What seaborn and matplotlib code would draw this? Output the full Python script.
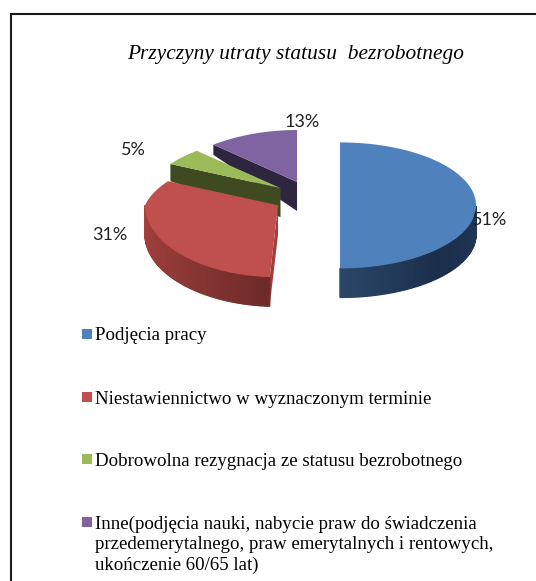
import numpy as np
import matplotlib
matplotlib.use('Agg')
import matplotlib.pyplot as plt
import seaborn as sns

# Dane
kategorie = ['Podjęcia pracy',
             'Niestawiennictwo w wyznaczonym terminie',
             'Dobrowolna rezygnacja ze statusu bezrobotnego',
             'Inne(podjęcia nauki, nabycie praw do świadczenia\nprzedemerytalnego, praw emerytalnych i rentowych,\nukończenie 60/65 lat)']
wartosci = [51, 31, 5, 13]
etykiety = ['51%', '31%', '5%', '13%']
tytul = 'Przyczyny utraty statusu  bezrobotnego'

# Kolory
kolory = ['#4F81BD', '#C0504D', '#9BBB59', '#8064A2']
boki = [['#2A4668', '#1B2F4C', '#1F3655'], ['#A8423F', '#8E3835', '#6E2B29'], ['#3F4A20', '#3F4A20'], ['#2E2540', '#2E2540']]
sciany = ['#1F3655', '#A03F3C', '#3F4A20', '#2E2540']

# Uklad (piksele)
W, H = 536, 581
CX, CY, RX, RY = 312, 198, 136, 63
GLEB = 29
wysuniecie = [0.206, 0.29, 0.28, 0.277]
przesun_y = [7, -2, 0, 0]
# perspektywa: (rx, zwezenie rx z tylu, ry tyl, zmiana ry z tylu, ry przod)
perspektywa = [(1.0, 0.0, 1.0, 0.0, 1.0)] + [(0.978, 0.2, 0.952, 0.127, 1.143)] * 3
poz_etykiet = [(490, 220), (110, 235), (133, 150), (302, 122)]
poz_legendy = [333.5, 397, 459, 521.5]

sns.set_theme(style='white')
plt.rcParams['font.family'] = ['Liberation Serif', 'DejaVu Sans']

fig = plt.figure(figsize=(W / 100, H / 100), dpi=100, facecolor='white')
ax = fig.add_axes([0, 0, 1, 1])
# pie liczy katy i wysuniecie wycinkow, widoczny ksztalt to rzut w perspektywie
wedges, _ = ax.pie(wartosci, colors=kolory, explode=wysuniecie, startangle=90, counterclock=False)
ax.set_aspect('auto')
ax.set_xlim(-CX / RX, (W - CX) / RX)
ax.set_ylim(-(H - CY) / RY, CY / RY)
ax.axis('off')


def glebokosc(y):
    # tyl kola jest "plytszy"
    return GLEB / RY * (1 - 0.95 * np.clip(y, 0, 1))


def punkt(i, x0, y0, st):
    rx, kx, ryt, kyt, ryp = perspektywa[i]
    t = np.deg2rad(st)
    s = np.sin(t)
    x = x0 + rx * (1 - kx * np.maximum(s, 0)) * np.cos(t)
    y = y0 + np.where(s >= 0, ryt - kyt * s, ryp) * s
    return x, y


# Od tylu do przodu
for z, i in enumerate([3, 2, 1, 0]):
    w = wedges[i]
    w.set_visible(False)
    x0, y0 = w.center[0], w.center[1] - przesun_y[i] / RY
    t1 = max(w.theta1, -90) if i == 0 else w.theta1
    t2 = w.theta2

    # Sciana ciecia (poczatek wycinka zgodnie z ruchem zegara)
    if i != 0:
        xe, ye = punkt(i, x0, y0, t2)
        ax.fill([x0, xe, xe, x0],
                [y0, ye, ye - glebokosc(np.sin(np.deg2rad(t2))), y0 - glebokosc(0)],
                color=sciany[i], lw=0, zorder=3 * z + 1)

    # Bok zewnetrzny, tylko przednia czesc
    th = np.linspace(t1, t2, 160)
    przod = th[np.sin(np.deg2rad(th)) <= 0]
    if len(przod) > 1:
        pal = sns.blend_palette(boki[i], len(przod) - 1)
        for a, b, c in zip(przod[:-1], przod[1:], pal):
            xa, ya = punkt(i, x0, y0, a)
            xb, yb = punkt(i, x0, y0, b)
            ax.fill([xa, xb, xb, xa], [ya, yb, yb - GLEB / RY, ya - GLEB / RY],
                    color=c, lw=1.0, zorder=3 * z + 2)

    # Gorna powierzchnia
    xs, ys = punkt(i, x0, y0, th)
    ax.fill(np.r_[x0, xs], np.r_[y0, ys], color=kolory[i], lw=0, zorder=3 * z + 3)

# Warstwa w pikselach: ramka, opisy, legenda
ov = fig.add_axes([0, 0, 1, 1], facecolor='none')
ov.set_xlim(0, W)
ov.set_ylim(H, 0)
ov.axis('off')

ov.plot([10.5, 10.5, W], [H, 13.5, 13.5], color='#1a1a1a', lw=1.5, solid_joinstyle='miter')
ov.text(296, 55, tytul, fontsize=15.4, style='italic', ha='center', va='center', color='black')

for (x, y), e in zip(poz_etykiet, etykiety):
    ov.text(x, y, e, fontsize=13, family='Lato', ha='center', va='center', color='#222222')

for y, k, c in zip(poz_legendy, kategorie, kolory):
    ov.scatter([86.5], [y], marker='s', s=45, color=c, lw=0)
    ov.text(95, y - 6, k, fontsize=13.6, ha='left', va='top', color='black', linespacing=1.25)

fig.savefig('out.png', dpi=100)
